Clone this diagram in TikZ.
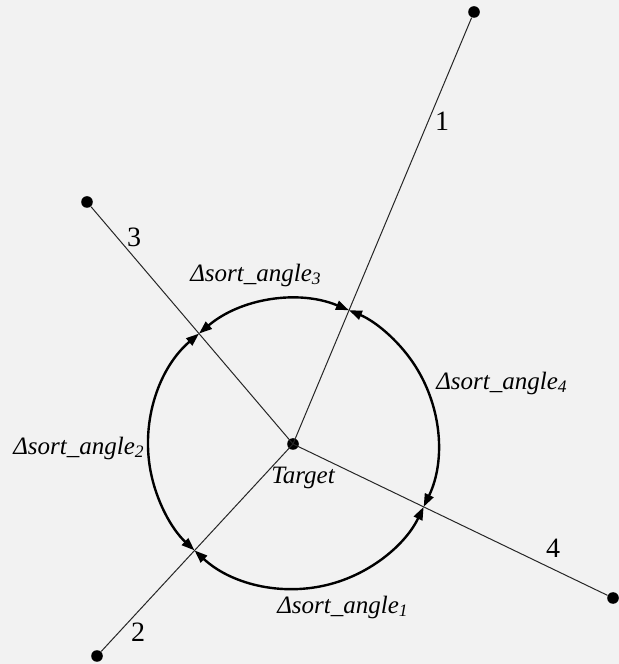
\documentclass[tikz,border=0pt]{standalone}
\usepackage{fontspec}
\setmainfont{Liberation Serif}
\usetikzlibrary{arrows.meta,calc}
\definecolor{paperbg}{HTML}{F2F2F2}

\begin{document}
\begin{tikzpicture}[x=0.5pt, y=0.5pt,
  dot/.style={circle, fill=black, inner sep=0pt, minimum size=5.8pt},
  spoke/.style={line width=0.5pt, black!85},
  sector/.style={{Triangle[length=6.5pt,width=4.6pt]}-{Triangle[length=6.5pt,width=4.6pt]}, line width=1.2pt},
  anglab/.style={font=\fontsize{12.5}{15}\selectfont\itshape, inner sep=1pt},
  numlab/.style={font=\fontsize{14}{16}\selectfont, inner sep=1pt}
]
  \fill[paperbg] (0,0) rectangle (619,664);
  \useasboundingbox (0,0) rectangle (619,664);

  % target and the four far ends
  \node[dot] (tgt) at (293,220) {};
  \node[dot] (p1) at (474,652) {};
  \node[dot] (p2) at (97,8) {};
  \node[dot] (p3) at (87,462) {};
  \node[dot] (p4) at (613,66) {};

  \draw[spoke] (tgt.center) -- (p1);
  \draw[spoke] (tgt.center) -- (p2);
  \draw[spoke] (tgt.center) -- (p3);
  \draw[spoke] (tgt.center) -- (p4);

  % crossing points on the circle
  \coordinate (c1) at ($(tgt.center)+(67.3:145)$);
  \coordinate (c3) at ($(tgt.center)+(130.4:145)$);
  \coordinate (c2) at ($(tgt.center)+(227.2:145)$);
  \coordinate (c4) at ($(tgt.center)+(334.3:145)$);

  \draw[sector] (c1) arc[start angle=67.3, end angle=130.4, radius=145];
  \draw[sector] (c3) arc[start angle=130.4, end angle=227.2, radius=145];
  \draw[sector] (c2) arc[start angle=227.2, end angle=334.3, radius=145];
  \draw[sector] (c4) arc[start angle=-25.7, end angle=67.3, radius=145];

  \node[numlab] (n1) at (442,543) {1};
  \node[numlab] (n2) at (138,32) {2};
  \node[numlab] (n3) at (134,427) {3};
  \node[numlab] (n4) at (553,116) {4};

  \node[anglab] (tlab) at (303,186) {Target};
  \node[anglab] (a1) at (343,57) {Δsort\_angle\textsubscript{1}};
  \node[anglab] (a2) at (79,216) {Δsort\_angle\textsubscript{2}};
  \node[anglab] (a3) at (256,389) {Δsort\_angle\textsubscript{3}};
  \node[anglab] (a4) at (502,281) {Δsort\_angle\textsubscript{4}};
\end{tikzpicture}
\end{document}
